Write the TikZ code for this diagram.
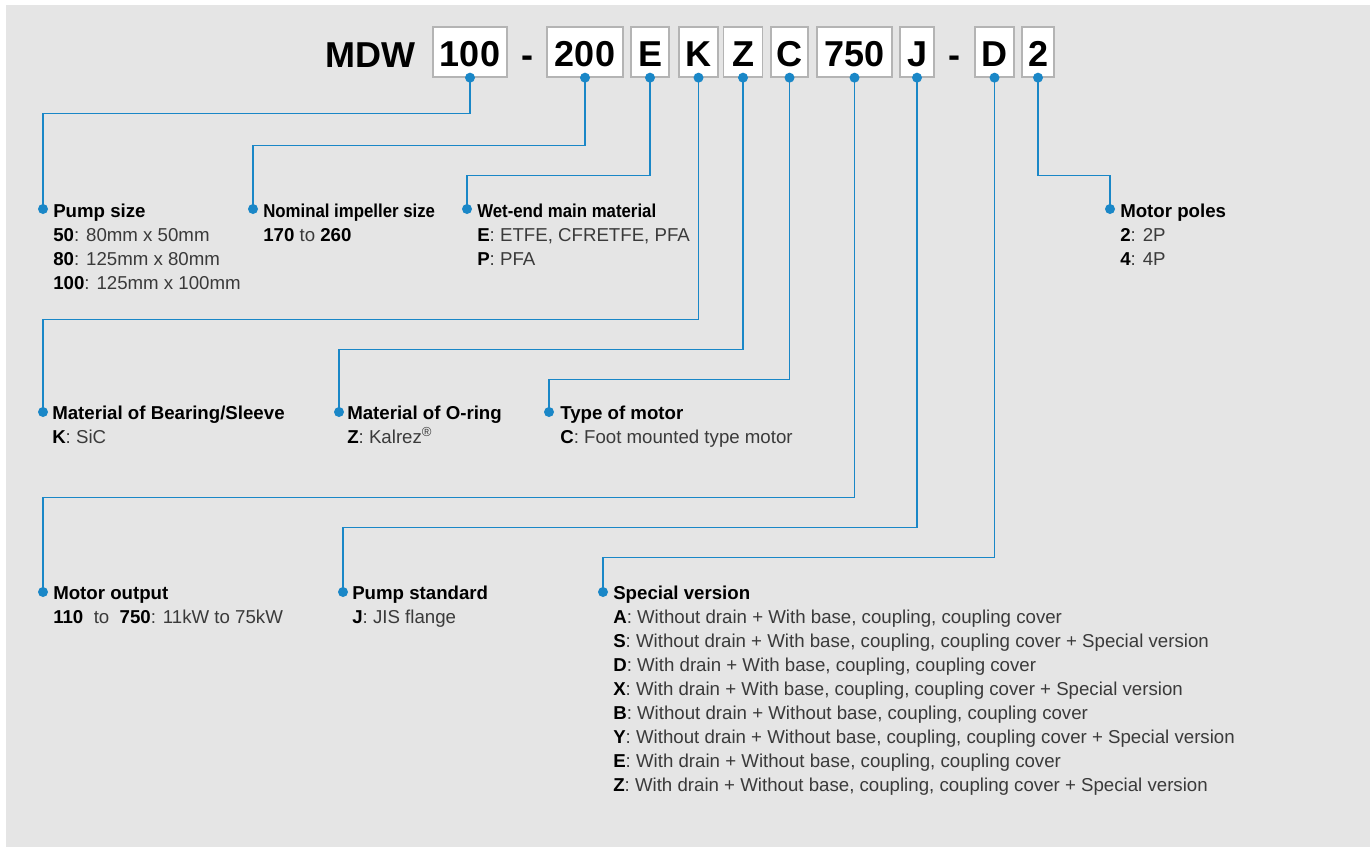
\documentclass[tikz,border=0pt]{standalone}
\usepackage{fontspec}
\setmainfont{Liberation Sans}
\usepackage{graphicx}
\definecolor{leadblue}{HTML}{1A87C7}
\definecolor{panelgray}{HTML}{E5E5E5}
\definecolor{boxline}{HTML}{B4B4B4}
\definecolor{bodytext}{HTML}{3A3A3A}

\newcommand{\kc}[1]{{\color{black}\bfseries #1}}
\newcommand{\codeitem}[2]{\begin{tabular}[t]{@{}l@{}}{\color{black}\bfseries #1}\\#2\end{tabular}}
\newcommand{\narrow}[1]{\scalebox{0.9}[1]{#1}}

\tikzset{
  codechar/.style={font=\fontsize{27}{30}\selectfont\bfseries, inner sep=0pt},
  codebox/.style={draw=boxline, fill=white, line width=1pt, minimum height=37.5pt,
    inner xsep=0pt, text height=22pt, text depth=0pt,
    font=\fontsize{27}{30}\selectfont\bfseries},
  lead/.style={draw=leadblue, line width=0.8pt},
  item/.style={anchor=base west, inner sep=0pt, text=bodytext,
    font=\fontsize{14}{18}\selectfont}
}

\begin{document}
\begin{tikzpicture}[x=0.75pt, y=-0.75pt]
     % background panel
     \fill[white] (0,0) rectangle (1370,847);
     \fill[panelgray] (6,5) rectangle (1370,847);

     % model code
     \node[codechar, anchor=base] (mdw) at (370,67) {MDW};
     \node[codebox, minimum width=55.5pt] (c100) at (470,52) {100};
     \node[codechar, anchor=base] (dashA) at (527,67) {-};
     \node[codebox, minimum width=57pt] (c200) at (585,52) {200};
     \node[codebox, minimum width=28.5pt] (cE) at (650,52) {E};
     \node[codebox, minimum width=29.25pt] (cK) at (698.5,52) {K};
     \node[codebox, minimum width=29.25pt] (cZ) at (743,52) {Z};
     \node[codebox, minimum width=27.75pt] (cC) at (789.5,52) {C};
     \node[codebox, minimum width=56.25pt] (c750) at (854.5,52) {750};
     \node[codebox, minimum width=25.5pt] (cJ) at (917,52) {J};
     \node[codechar, anchor=base] (dashB) at (954,67) {-};
     \node[codebox, minimum width=29.25pt] (cD) at (994.5,52) {D};
     \node[codebox, minimum width=24pt] (c2) at (1038,52) {2};

     % label dots
     \coordinate (dPump) at (43,209);
     \coordinate (dImp) at (253,209);
     \coordinate (dWet) at (467,209);
     \coordinate (dPoles) at (1110,209);
     \coordinate (dBear) at (43,412);
     \coordinate (dRing) at (339,412);
     \coordinate (dMotor) at (549,412);
     \coordinate (dOut) at (43,592);
     \coordinate (dStd) at (343,592);
     \coordinate (dSpec) at (603,592);

     % leader lines
     \draw[lead] (c100.south) -- ++(0,36) -| (dPump);
     \draw[lead] (c200.south) -- ++(0,68) -| (dImp);
     \draw[lead] (cE.south) -- ++(0,98) -| (dWet);
     \draw[lead] (cK.south) -- ++(0,242) -| (dBear);
     \draw[lead] (cZ.south) -- ++(0,272) -| (dRing);
     \draw[lead] (cC.south) -- ++(0,302) -| (dMotor);
     \draw[lead] (c750.south) -- ++(0,420) -| (dOut);
     \draw[lead] (cJ.south) -- ++(0,450) -| (dStd);
     \draw[lead] (cD.south) -- ++(0,480) -| (dSpec);
     \draw[lead] (c2.south) -- ++(0,98) -| (dPoles);

     % dots
     \foreach \p in {c100.south,c200.south,cE.south,cK.south,cZ.south,cC.south,
                     c750.south,cJ.south,cD.south,c2.south,
                     dPump,dImp,dWet,dPoles,dBear,dRing,dMotor,dOut,dStd,dSpec}
       \fill[leadblue] (\p) circle (3.75pt);

     % labels
     \node[item] (lPump) at (53,217) {\codeitem{Pump size}{\kc{50}: 80mm x 50mm\\
       \kc{80}: 125mm x 80mm\\ \kc{100}: 125mm x 100mm}};
     \node[item] (lImp) at (263,217) {\codeitem{\narrow{Nominal impeller size}}{\kc{170} to \kc{260}}};
     \node[item] (lWet) at (477,217) {\codeitem{\narrow{Wet-end main material}}{\kc{E}: ETFE, CFRETFE, PFA\\
       \kc{P}: PFA}};
     \node[item] (lPoles) at (1120,217) {\codeitem{Motor poles}{\kc{2}: 2P\\ \kc{4}: 4P}};
     \node[item] (lBear) at (52,419) {\codeitem{Material of Bearing/Sleeve}{\kc{K}: SiC}};
     \node[item] (lRing) at (347,419) {\codeitem{Material of O-ring}{\kc{Z}: Kalrez\textsuperscript{®}}};
     \node[item] (lMotor) at (560,419) {\codeitem{Type of motor}{\kc{C}: Foot mounted type motor}};
     \node[item] (lOut) at (53,599) {\codeitem{Motor output}{\kc{110}\ \ to\ \ \kc{750}: 11kW to 75kW}};
     \node[item] (lStd) at (352,599) {\codeitem{Pump standard}{\kc{J}: JIS flange}};
     \node[item] (lSpec) at (613,599) {\codeitem{Special version}{%
       \kc{A}: Without drain + With base, coupling, coupling cover\\
       \kc{S}: Without drain + With base, coupling, coupling cover + Special version\\
       \kc{D}: With drain + With base, coupling, coupling cover\\
       \kc{X}: With drain + With base, coupling, coupling cover + Special version\\
       \kc{B}: Without drain + Without base, coupling, coupling cover\\
       \kc{Y}: Without drain + Without base, coupling, coupling cover + Special version\\
       \kc{E}: With drain + Without base, coupling, coupling cover\\
       \kc{Z}: With drain + Without base, coupling, coupling cover + Special version}};

\end{tikzpicture}
\end{document}
